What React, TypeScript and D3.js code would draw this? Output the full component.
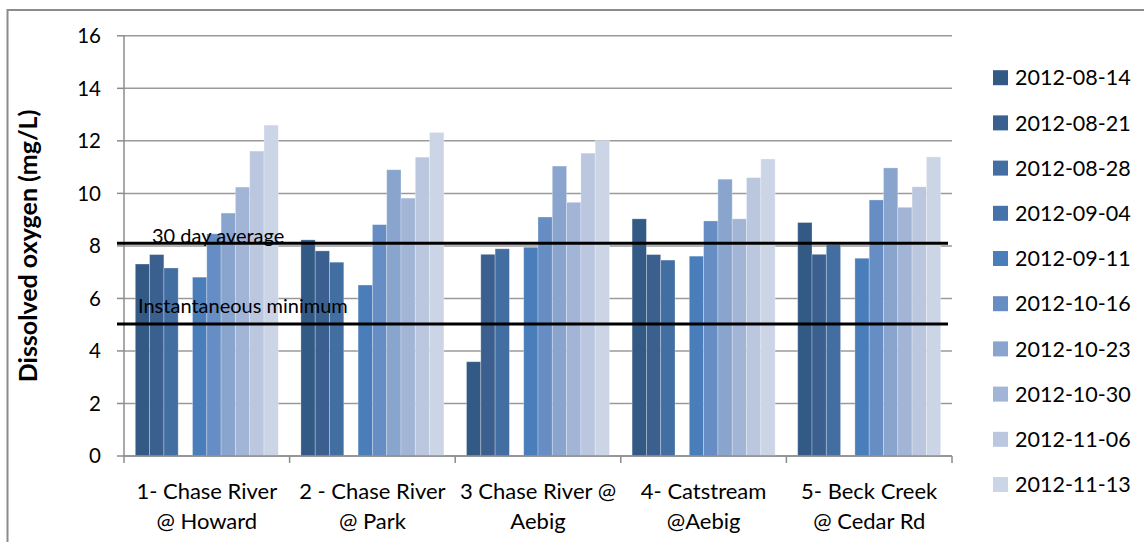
import React from "react";
import * as d3 from "d3";

const categories = [
  ["1- Chase River", "@ Howard"],
  ["2 - Chase River", "@ Park"],
  ["3 Chase River @", "Aebig"],
  ["4- Catstream", "@Aebig"],
  ["5- Beck Creek", "@ Cedar Rd"],
];

const seriesNames = [
  "2012-08-14",
  "2012-08-21",
  "2012-08-28",
  "2012-09-04",
  "2012-09-11",
  "2012-10-16",
  "2012-10-23",
  "2012-10-30",
  "2012-11-06",
  "2012-11-13",
];

const seriesColors = [
  "#335A85",
  "#3B6090",
  "#426EA2",
  "#4672AA",
  "#4A7EBB",
  "#668EC4",
  "#89A5CE",
  "#A3B5D6",
  "#BAC7DF",
  "#CCD5E6",
];

// values per series, one per category (null = not sampled)
const s0814 = [7.31, 8.23, 3.59, 9.03, 8.89];
const s0821 = [7.67, 7.81, 7.68, 7.67, 7.68];
const s0828 = [7.16, 7.38, 7.89, 7.46, 8.05];
const s0904 = [null, null, null, null, null];
const s0911 = [6.81, 6.51, 7.95, 7.61, 7.53];
const s1016 = [8.46, 8.81, 9.1, 8.95, 9.75];
const s1023 = [9.25, 10.9, 11.04, 10.54, 10.97];
const s1030 = [10.24, 9.82, 9.66, 9.03, 9.47];
const s1106 = [11.61, 11.38, 11.53, 10.6, 10.25];
const s1113 = [12.6, 12.32, 12.01, 11.31, 11.39];
const seriesValues: (number | null)[][] = [s0814, s0821, s0828, s0904, s0911, s1016, s1023, s1030, s1106, s1113];

const yTicks = [0, 2, 4, 6, 8, 10, 12, 14, 16];
const refLines = [
  { value: 8.1, label: "30 day average" },
  { value: 5.03, label: "Instantaneous minimum" },
];

const FONT = "Lato, 'Open Sans', sans-serif";

export default function App() {
  const left = 124;
  const right = 952;
  const top = 35.8;
  const bottom = 456;

  const y = d3.scaleLinear().domain([0, 16]).range([bottom, top]);
  const x0 = d3
    .scaleBand<number>()
    .domain(categories.map((_, i) => i))
    .range([left, right])
    .padding(0);
  const bw = x0.bandwidth();
  const pad = 11.3;
  const x1 = d3
    .scaleBand<number>()
    .domain(seriesNames.map((_, i) => i))
    .range([pad, bw - pad])
    .padding(0);

  const refLabelPos = [
    { x: 152, y: 243 },
    { x: 138, y: 313 },
  ];

  return (
    <svg
      width={1144}
      height={542}
      style={{ position: "fixed", left: 0, top: 0, background: "#fff" }}
    >
      {/* outer border */}
      <rect x={7.5} y={10} width={1150} height={560} fill="none" stroke="#8c8c8c" strokeWidth={2} />

      {/* gridlines */}
      {yTicks.map((t) => (
        <line key={"g" + t} x1={left} x2={right} y1={y(t)} y2={y(t)} stroke="#9a9a9a" strokeWidth={1.5} />
      ))}

      {/* bars */}
      {seriesValues.map((vals, si) =>
        vals.map((v, ci) =>
          v == null ? null : (
            <rect
              key={si + "-" + ci}
              x={(x0(ci) as number) + (x1(si) as number)}
              y={y(v)}
              width={x1.bandwidth()}
              height={y(0) - y(v)}
              fill={seriesColors[si]}
              stroke="rgba(255,255,255,0.35)"
              strokeWidth={0.8}
            />
          )
        )
      )}

      {/* y axis */}
      <line x1={left} x2={left} y1={top} y2={bottom} stroke="#8c8c8c" strokeWidth={1.5} />
      {yTicks.map((t) => (
        <g key={"t" + t}>
          <line x1={left - 7} x2={left} y1={y(t)} y2={y(t)} stroke="#8c8c8c" strokeWidth={1.5} />
          <text
            x={101}
            y={y(t)}
            dy="0.36em"
            textAnchor="end"
            fontFamily={FONT}
            fontSize={20.5}
            fill="#000"
          >
            {t}
          </text>
        </g>
      ))}

      {/* x axis */}
      <line x1={left} x2={right} y1={bottom} y2={bottom} stroke="#8c8c8c" strokeWidth={1.5} />
      {categories.map((_, i) => (
        <line
          key={"xt" + i}
          x1={x0(i) as number}
          x2={x0(i) as number}
          y1={bottom}
          y2={bottom + 7}
          stroke="#8c8c8c"
          strokeWidth={1.5}
        />
      ))}
      <line x1={right} x2={right} y1={bottom} y2={bottom + 7} stroke="#8c8c8c" strokeWidth={1.5} />
      {categories.map((lines, i) => (
        <text
          key={"xl" + i}
          x={(x0(i) as number) + bw / 2}
          textAnchor="middle"
          fontFamily={FONT}
          fontSize={22}
          fill="#000"
        >
          <tspan x={(x0(i) as number) + bw / 2} y={499}>
            {lines[0]}
          </tspan>
          <tspan x={(x0(i) as number) + bw / 2} y={529}>
            {lines[1]}
          </tspan>
        </text>
      ))}

      {/* reference lines */}
      {refLines.map((r, i) => (
        <g key={"r" + i}>
          <line x1={117} x2={948} y1={y(r.value)} y2={y(r.value)} stroke="#000" strokeWidth={3} />
          <text x={refLabelPos[i].x} y={refLabelPos[i].y} fontFamily={FONT} fontSize={20} fill="#000">
            {r.label}
          </text>
        </g>
      ))}

      {/* y axis title */}
      <text
        transform={`translate(37,${(top + bottom) / 2}) rotate(-90)`}
        textAnchor="middle"
        fontFamily={FONT}
        fontWeight="bold"
        fontSize={25}
        fill="#000"
      >
        Dissolved oxygen (mg/L)
      </text>

      {/* legend */}
      {seriesNames.map((name, i) => {
        const cy = 77.7 + i * 45.2;
        return (
          <g key={"lg" + i}>
            <rect x={993} y={cy - 7.5} width={15} height={15} fill={seriesColors[i]} />
            <text x={1015} y={cy} dy="0.36em" fontFamily={FONT} fontSize={21.5} fill="#000">
              {name}
            </text>
          </g>
        );
      })}
    </svg>
  );
}
